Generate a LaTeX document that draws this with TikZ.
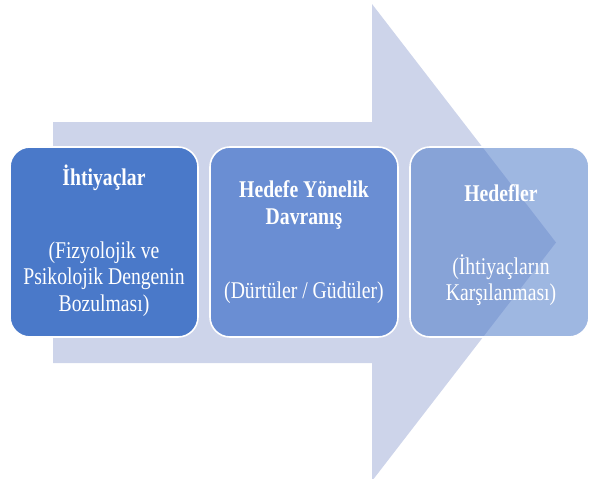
\documentclass[tikz,border=0pt]{standalone}
\usepackage{fontspec}
\setmainfont{Liberation Serif}[FakeStretch=0.82]
\definecolor{arrowfill}{RGB}{205,212,234}
\definecolor{boxone}{RGB}{74,121,201}
\definecolor{boxtwo}{RGB}{106,142,211}
\definecolor{boxthree}{RGB}{79,123,201}
\begin{document}
\begin{tikzpicture}[x=1pt,y=-1pt,
  stepbox/.style={draw=white,line width=1.6pt,rounded corners=20pt},
  txt/.style={text=white,align=center,inner sep=0pt,font=\fontsize{24}{26.5}\selectfont},
  ttl/.style={txt,font=\bfseries\fontsize{24}{26.5}\selectfont}]
\useasboundingbox (0,0) rectangle (590,479);
% big arrow
\fill[arrowfill] (53,122) -- (372,122) -- (372,4) -- (556,242.5) -- (372,481) -- (372,363) -- (53,363) -- cycle;
% boxes
\draw[stepbox,fill=boxone] (10,147) rectangle (198,337);
\draw[stepbox,fill=boxtwo] (210,147) rectangle (398,337);
\path[stepbox,fill=boxthree,fill opacity=0.55,draw opacity=1] (410,147) rectangle (589,337);
% texts
\node[ttl] (t1) at (104,178) {İhtiyaçlar};
\node[txt] (s1) at (104,279) {(Fizyolojik ve\\Psikolojik Dengenin\\Bozulması)};
\node[ttl] (t2) at (304,205) {Hedefe Yönelik\\Davranış};
\node[txt] (s2) at (304,293) {(Dürtüler / Güdüler)};
\node[ttl] (t3) at (501,193) {Hedefler};
\node[txt] (s3) at (501,280) {(İhtiyaçların\\Karşılanması)};
\end{tikzpicture}
\end{document}
